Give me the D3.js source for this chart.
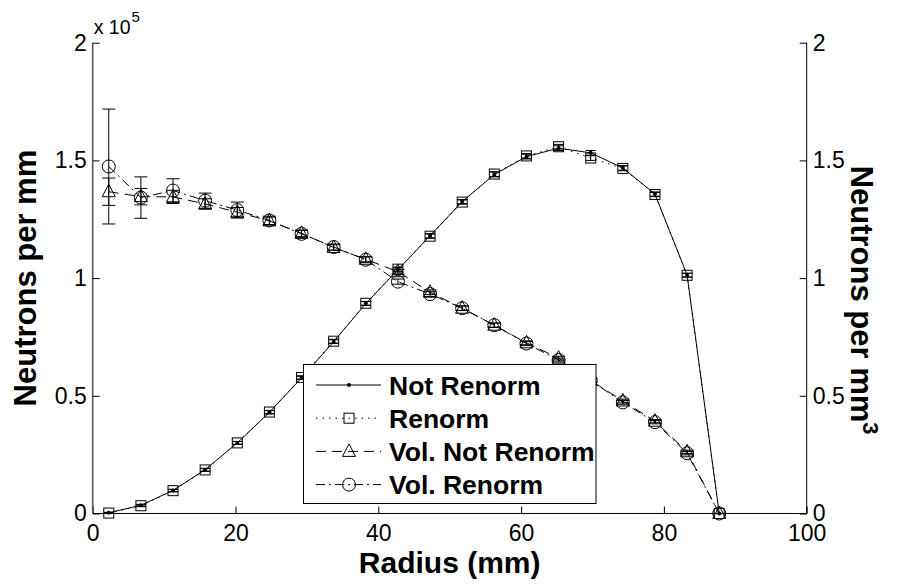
<!DOCTYPE html>
<html>
<head>
<meta charset="utf-8">
<script src="https://cdn.jsdelivr.net/npm/d3@7"></script>
<style>
  html, body { margin: 0; padding: 0; background: #fff; }
  svg text { font-family: "Liberation Sans", Arial, Helvetica, sans-serif; }
</style>
</head>
<body>
<svg id="chart" width="898" height="587"></svg>
<script>
// Radial bin centres (mm)
const radius = [2.25, 6.75, 11.25, 15.75, 20.25, 24.75, 29.25, 33.75, 38.25, 42.75,
                47.25, 51.75, 56.25, 60.75, 65.25, 69.75, 74.25, 78.75, 83.25, 87.75];

// Neutrons per mm (units of 1e5), left axis
const notRenorm = [0.003, 0.035, 0.098, 0.186, 0.300, 0.430, 0.576, 0.730, 0.892, 1.035,
                   1.180, 1.325, 1.440, 1.516, 1.552, 1.532, 1.468, 1.357, 1.013, 0.0];
const notRenormErr = [0.002, 0.004, 0.005, 0.006, 0.006, 0.007, 0.007, 0.008, 0.008, 0.009,
                      0.009, 0.009, 0.010, 0.010, 0.010, 0.010, 0.010, 0.009, 0.008, 0.0];
const renorm = [0.002, 0.033, 0.097, 0.185, 0.300, 0.431, 0.578, 0.732, 0.893, 1.038,
                1.178, 1.323, 1.442, 1.519, 1.558, 1.510, 1.466, 1.355, 1.012, 0.0];
const renormErr = [0.002, 0.004, 0.005, 0.006, 0.006, 0.007, 0.007, 0.008, 0.008, 0.009,
                   0.009, 0.009, 0.010, 0.010, 0.010, 0.010, 0.010, 0.009, 0.008, 0.0];

// Neutrons per mm^3, right axis
const volNotRenorm = [1.367, 1.346, 1.345, 1.315, 1.280, 1.243, 1.190, 1.130, 1.080, 1.027,
                      0.940, 0.872, 0.800, 0.725, 0.660, 0.565, 0.478, 0.392, 0.262, 0.0];
const volNotRenormErr = [0.058, 0.035, 0.028, 0.022, 0.020, 0.016, 0.014, 0.012, 0.011, 0.010,
                         0.010, 0.009, 0.009, 0.008, 0.008, 0.008, 0.008, 0.007, 0.007, 0.0];
const volRenorm = [1.474, 1.342, 1.372, 1.329, 1.289, 1.245, 1.188, 1.132, 1.078, 0.985,
                   0.932, 0.872, 0.800, 0.722, 0.652, 0.565, 0.472, 0.388, 0.256, 0.0];
const volRenormErr = [0.244, 0.088, 0.050, 0.032, 0.034, 0.018, 0.015, 0.013, 0.012, 0.011,
                      0.010, 0.010, 0.009, 0.009, 0.008, 0.008, 0.008, 0.007, 0.007, 0.0];

const xTicks = [0, 20, 40, 60, 80, 100];
const yTicks = [0, 0.5, 1, 1.5, 2];
const legendLabels = ["Not Renorm", "Renorm", "Vol. Not Renorm", "Vol. Renorm"];

const svg = d3.select("#chart");
const plot = { left: 92.7, right: 806.7, top: 42.7, bottom: 513.5 };

const x = d3.scaleLinear().domain([0, 100]).range([plot.left, plot.right]);
const yL = d3.scaleLinear().domain([0, 2]).range([plot.bottom, plot.top]);
const yR = d3.scaleLinear().domain([0, 2]).range([plot.bottom, plot.top]);

const fmt = d => (d === 0 ? "0" : d3.format("~g")(d));
const tickFont = 23;

// Axes (ticks point inward)
const gx = svg.append("g").attr("transform", `translate(0,${plot.bottom})`)
  .call(d3.axisBottom(x).tickValues(xTicks).tickSize(-7).tickPadding(12).tickFormat(fmt));
const gyl = svg.append("g").attr("transform", `translate(${plot.left},0)`)
  .call(d3.axisLeft(yL).tickValues(yTicks).tickSize(-7).tickPadding(6).tickFormat(fmt));
const gyr = svg.append("g").attr("transform", `translate(${plot.right},0)`)
  .call(d3.axisRight(yR).tickValues(yTicks).tickSize(-7).tickPadding(6).tickFormat(fmt));

[gx, gyl, gyr].forEach(g => {
  g.selectAll("text").attr("font-size", tickFont).attr("fill", "#000")
    .style("font-family", '"Liberation Sans", Arial, sans-serif');
  g.selectAll("line").attr("stroke", "#000");
  g.select(".domain").attr("stroke", "#000");
});
gx.selectAll(".tick text").attr("dy", "0.68em");
gyl.select(".domain").attr("d", `M0,${plot.bottom}V${plot.top}`).attr("stroke", "#555").attr("stroke-width", 1.6);
gyr.select(".domain").attr("d", `M0,${plot.bottom}V${plot.top}`);
gx.select(".domain").attr("d", `M${plot.left},0H${plot.right}`);

// Exponent label above the left axis
const expo = svg.append("text").attr("x", plot.left + 1).attr("y", 34).attr("font-size", 19.5);
expo.append("tspan").text("x 10");
expo.append("tspan").attr("dx", 1).attr("dy", -12).attr("font-size", 15).text("5");

// Axis titles
svg.append("text").attr("x", (plot.left + plot.right) / 2).attr("y", 573)
  .attr("text-anchor", "middle").attr("font-size", 30).attr("font-weight", "bold")
  .text("Radius (mm)");
svg.append("text").attr("transform", `translate(36,${(plot.top + plot.bottom) / 2}) rotate(-90)`)
  .attr("text-anchor", "middle").attr("font-size", 31).attr("font-weight", "bold")
  .text("Neutrons per mm");
const rt = svg.append("text").attr("transform", `translate(851,${(plot.top + plot.bottom) / 2 + 22}) rotate(90)`)
  .attr("text-anchor", "middle").attr("font-size", 31).attr("font-weight", "bold");
rt.append("tspan").text("Neutrons per mm");
rt.append("tspan").attr("dy", -12).attr("font-size", 22).text("3");

// Marker painters
const markers = {
  dot: (g, cx, cy) => g.append("circle").attr("cx", cx).attr("cy", cy).attr("r", 2).attr("fill", "#000"),
  square: (g, cx, cy) => g.append("rect").attr("x", cx - 5).attr("y", cy - 5).attr("width", 10).attr("height", 10)
    .attr("fill", "none").attr("stroke", "#000").attr("stroke-width", 1),
  triangle: (g, cx, cy) => g.append("path")
    .attr("d", `M${cx},${cy - 7.5}L${cx + 6.5},${cy + 5}L${cx - 6.5},${cy + 5}Z`)
    .attr("fill", "none").attr("stroke", "#000").attr("stroke-width", 1),
  circle: (g, cx, cy) => g.append("circle").attr("cx", cx).attr("cy", cy).attr("r", 6.5)
    .attr("fill", "none").attr("stroke", "#000").attr("stroke-width", 1)
};

const series = [
  { name: legendLabels[0], values: notRenorm, err: notRenormErr, y: yL, dash: null, marker: "dot", cap: 5 },
  { name: legendLabels[1], values: renorm, err: renormErr, y: yL, dash: "1.5,5", marker: "square", cap: 5 },
  { name: legendLabels[2], values: volNotRenorm, err: volNotRenormErr, y: yR, dash: "10,6", marker: "triangle", cap: 6.5 },
  { name: legendLabels[3], values: volRenorm, err: volRenormErr, y: yR, dash: "9,4,2,4", marker: "circle", cap: 6.5 }
];

const plotG = svg.append("g");
series.forEach(s => {
  const pts = radius.map((r, i) => ({ r, v: s.values[i], e: s.err[i] }));
  const g = plotG.append("g");
  g.append("path").datum(pts)
    .attr("d", d3.line().x(d => x(d.r)).y(d => s.y(d.v)))
    .attr("fill", "none").attr("stroke", "#000").attr("stroke-width", 1)
    .attr("stroke-dasharray", s.dash);
  // error bars
  pts.forEach(d => {
    const cx = x(d.r), y0 = s.y(d.v - d.e), y1 = s.y(d.v + d.e);
    g.append("path")
      .attr("d", `M${cx},${y0}V${y1}M${cx - s.cap},${y0}H${cx + s.cap}M${cx - s.cap},${y1}H${cx + s.cap}`)
      .attr("stroke", "#000").attr("stroke-width", 1).attr("fill", "none");
    markers[s.marker](g, cx, s.y(d.v));
  });
});

// Legend
const lg = { x: 303.5, y: 364.5, w: 292.5, h: 139, row: 33.2 };
const legend = svg.append("g");
legend.append("rect").attr("x", lg.x).attr("y", lg.y).attr("width", lg.w).attr("height", lg.h)
  .attr("fill", "#fff").attr("stroke", "#000").attr("stroke-width", 1);
series.forEach((s, i) => {
  const cy = 385 + i * lg.row;
  legend.append("line").attr("x1", 316).attr("x2", 381).attr("y1", cy).attr("y2", cy)
    .attr("stroke", "#000").attr("stroke-width", 1).attr("stroke-dasharray", s.dash);
  markers[s.marker](legend, 349, cy);
  legend.append("text").attr("x", 389).attr("y", cy).attr("dy", "0.36em")
    .attr("font-size", 26.5).attr("font-weight", "bold").text(s.name);
});
</script>
</body>
</html>
